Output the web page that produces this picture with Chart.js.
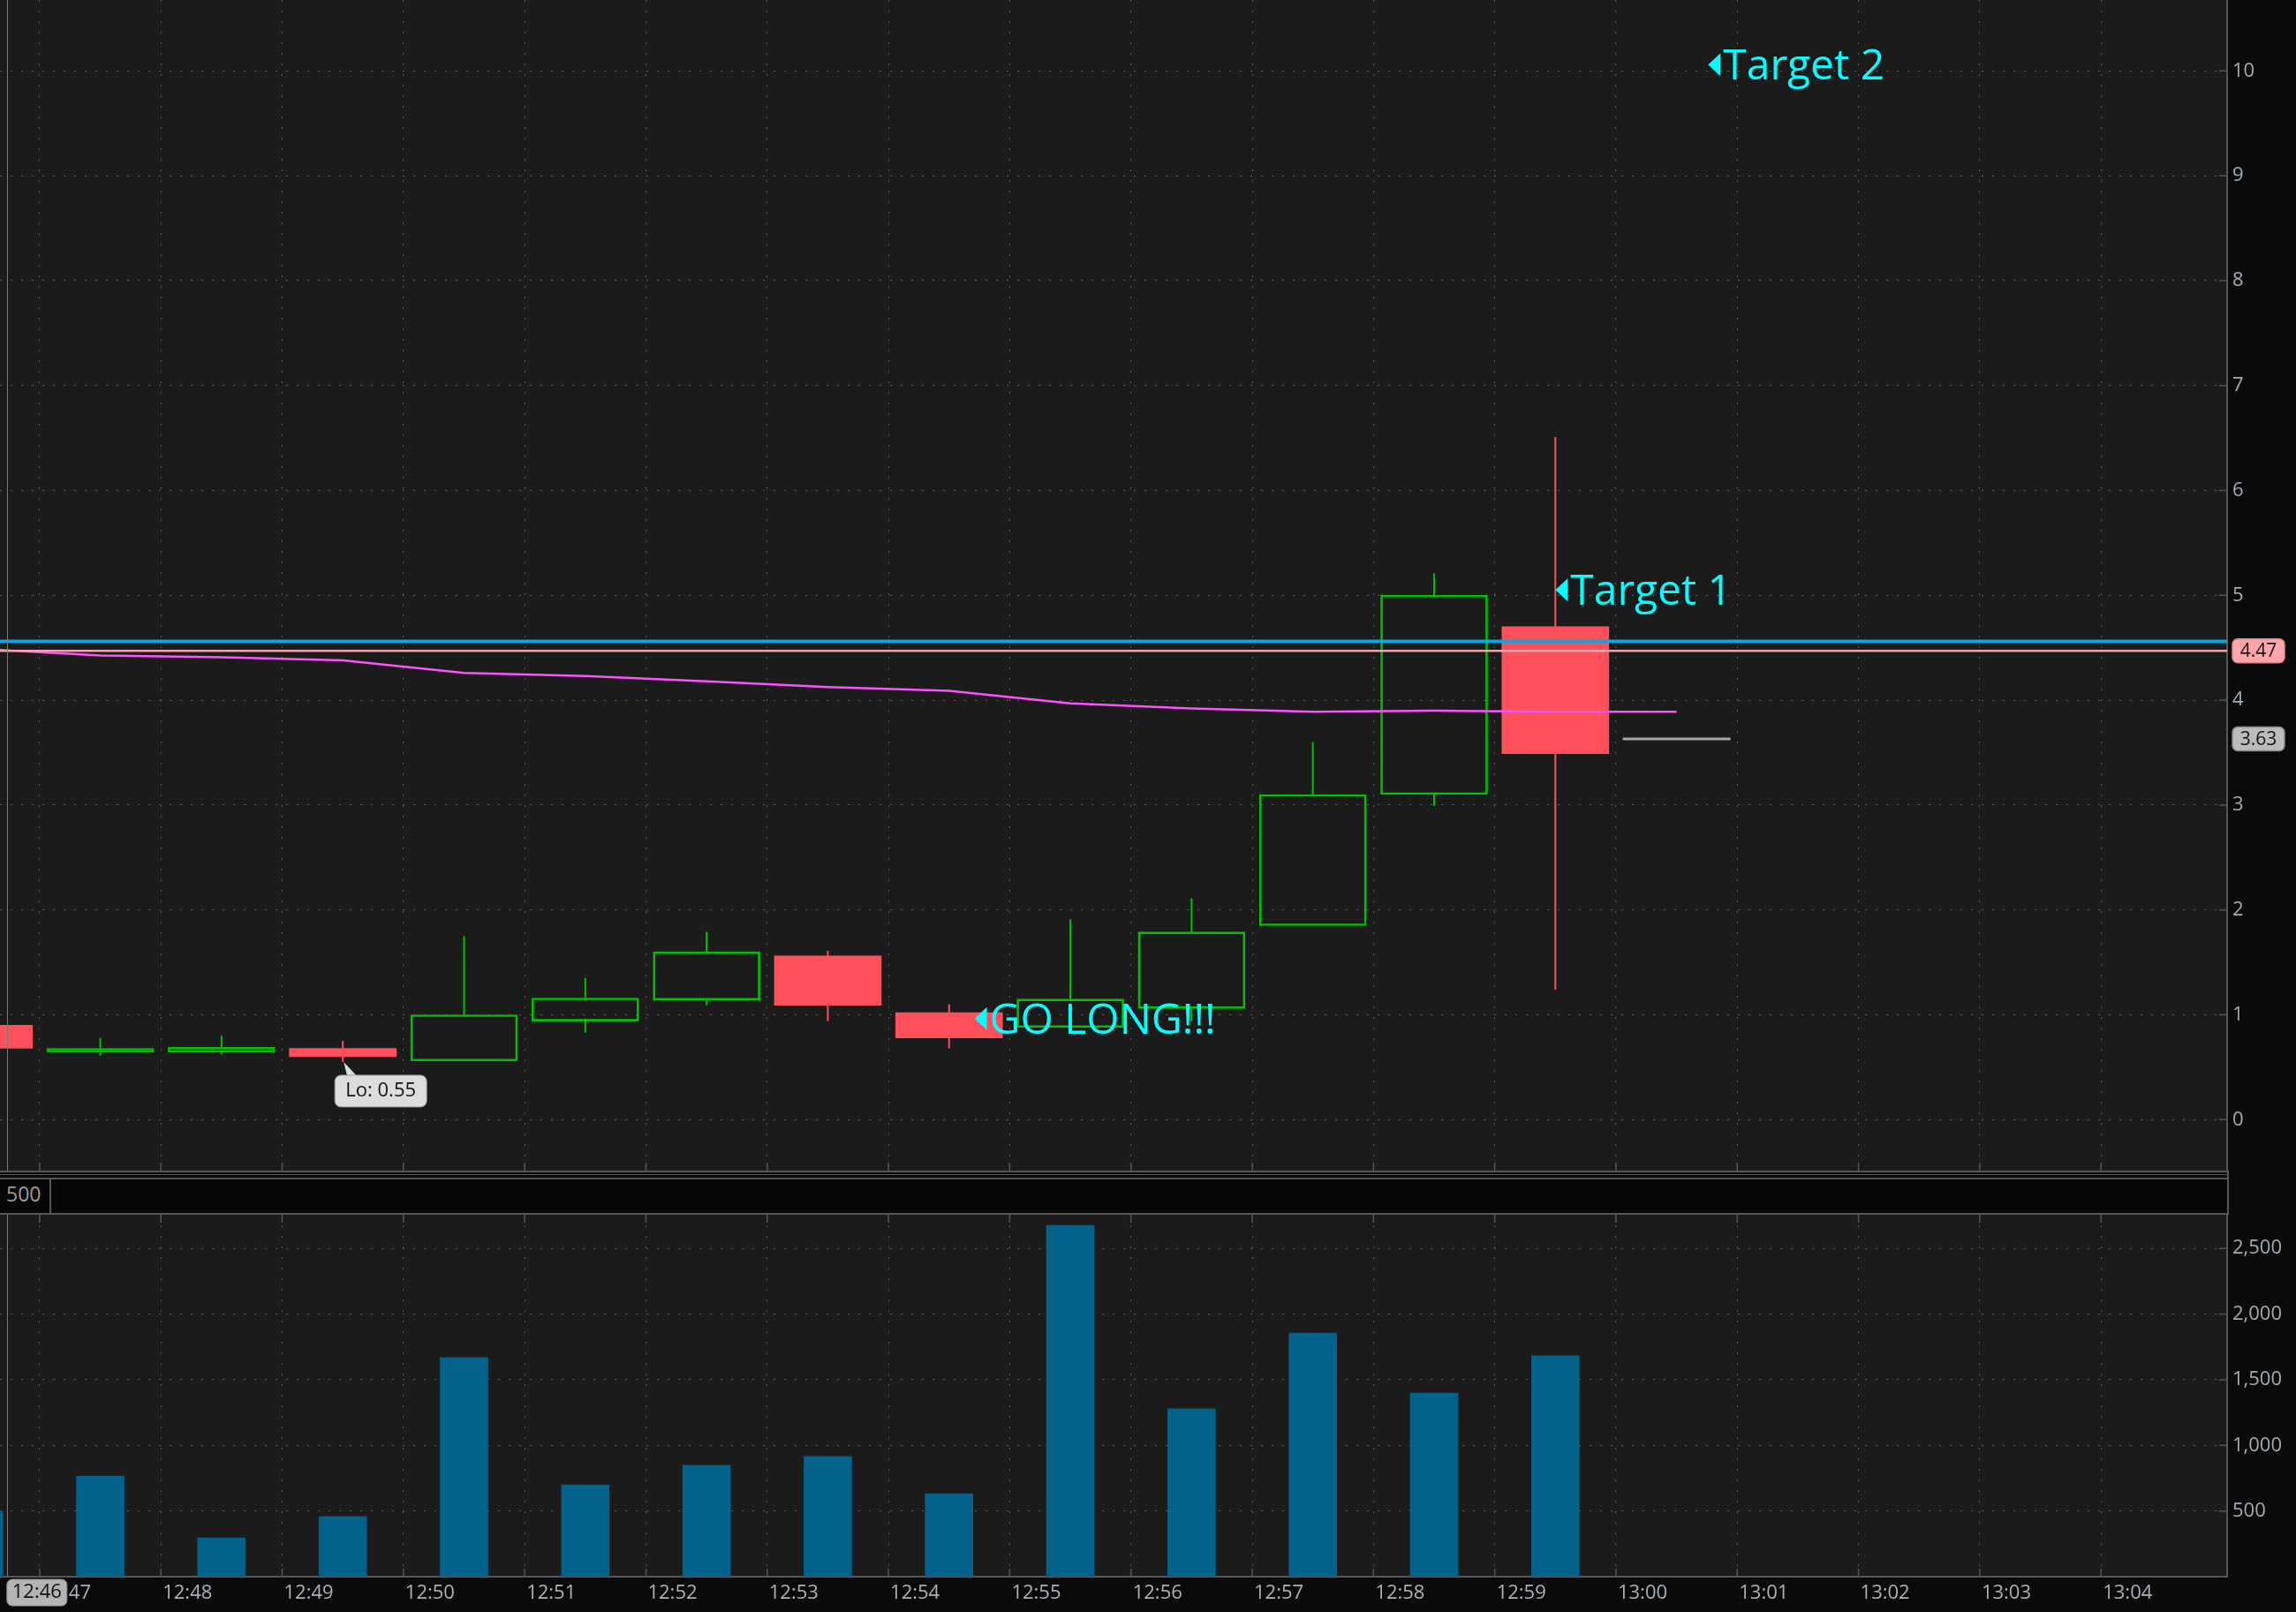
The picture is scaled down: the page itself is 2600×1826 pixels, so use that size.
<!DOCTYPE html>
<html lang="en">
<head>
<meta charset="utf-8">
<title>1 min chart</title>
<script src="https://cdn.jsdelivr.net/npm/chart.js@4.4.0/dist/chart.umd.min.js"></script>
<style>
  html, body { margin: 0; padding: 0; background: #0a0a0a; }
  #wrap { position: relative; width: 2600px; height: 1826px; overflow: hidden; background: #0a0a0a; }
  canvas { position: absolute; left: 0; display: block; }
  #priceChart { top: 0; }
  #volumeChart { top: 1376px; }
  .sep { position: absolute; left: 0; width: 2522px; background: #565656; }
  #studyBar { position: absolute; left: 0; top: 1336px; width: 2522px; height: 38px; background: #070707; }
  #studyBar span { position: absolute; left: 7px; top: 0; line-height: 38px; font: 23px 'Open Sans', sans-serif; color: #9c9c9c; }
  #studyBar i { position: absolute; left: 56px; top: 0; width: 2px; height: 38px; background: #565656; }
  #axisJoin { position: absolute; left: 2522px; top: 1326px; width: 2px; height: 50px; background: #565656; }
</style>
</head>
<body>
<div id="wrap">
  <canvas id="priceChart" width="2600" height="1326"></canvas>
  <div class="sep" style="top:1326px;height:2px"></div>
  <div class="sep" style="top:1330px;height:1px"></div>
  <div class="sep" style="top:1334px;height:2px"></div>
  <div id="studyBar"><span>500</span><i></i></div>
  <div class="sep" style="top:1374px;height:2px"></div>
  <div id="axisJoin"></div>
  <canvas id="volumeChart" width="2600" height="450"></canvas>
</div>
<script>
// values (1 minute bars)
const barTimes = ['12:46', '12:47', '12:48', '12:49', '12:50', '12:51', '12:52', '12:53', '12:54', '12:55', '12:56', '12:57', '12:58', '12:59'];
const opens   = [0.90, 0.64, 0.64, 0.68, 0.56, 0.94, 1.14, 1.56, 1.02, 0.88, 1.06, 1.85, 3.10, 4.70];
const highs   = [0.95, 0.78, 0.80, 0.75, 1.75, 1.35, 1.79, 1.61, 1.10, 1.91, 2.11, 3.60, 5.21, 6.51];
const lows    = [0.65, 0.61, 0.62, 0.55, 0.56, 0.83, 1.09, 0.94, 0.68, 0.87, 0.94, 1.85, 2.99, 1.24];
const closes  = [0.68, 0.68, 0.69, 0.60, 1.00, 1.16, 1.60, 1.09, 0.78, 1.15, 1.79, 3.10, 5.00, 3.49];
const volumes = [494, 766, 295, 458, 1668, 699, 848, 915, 631, 2676, 1278, 1855, 1398, 1682];

// moving average (runs one bar further than the candles)
const maTimes  = ['12:46', '12:47', '12:48', '12:49', '12:50', '12:51', '12:52', '12:53', '12:54', '12:55', '12:56', '12:57', '12:58', '12:59', '13:00'];
const maValues = [4.49, 4.425, 4.41, 4.38, 4.26, 4.23, 4.18, 4.125, 4.09, 3.97, 3.92, 3.89, 3.90, 3.89, 3.89];

const priceTicks  = [0, 1, 2, 3, 4, 5, 6, 7, 8, 9, 10];
const volumeTicks = [0, 500, 1000, 1500, 2000, 2500];
const timeTicks   = ['12:47', '12:48', '12:49', '12:50', '12:51', '12:52', '12:53', '12:54', '12:55',
                     '12:56', '12:57', '12:58', '12:59', '13:00', '13:01', '13:02', '13:03', '13:04'];

const blueLevel = 4.56;
const pinkLevel = 4.47;
const lastPrice = 3.63;
const lastPriceTime = '13:00';

// drawings on the chart: text, time (minutes after 12:00), price
const noteTexts  = ['Target 2', 'Target 1', 'GO LONG!!!'];
const noteTimes  = [60.76, 59.5, 54.71];
const notePrices = [10.06, 5.05, 0.965];

const cursorTime = 46.73;
const cursorLabel = '12:46';

// visible window
const viewStart = 46.673, viewEnd = 65.04;
const priceMin = -0.486, priceMax = 10.676;
const volumeMax = 2757;

const GRID = '#5c5c5c';
const AXIS = '#565656';
const UP = '#00c000';
const DOWN = '#ff4f5a';

Chart.defaults.font.family = "'Open Sans', 'Noto Sans', sans-serif";
Chart.defaults.font.size = 22;
Chart.defaults.color = '#a3abb3';

function toMin(hhmm) {
    const p = hhmm.split(':');
    return Number(p[0]) * 60 + Number(p[1]) - 720;
}
function slot(hhmm) { return toMin(hhmm) + 0.5; } // centre of the minute

function roundRect(ctx, x, y, w, h, r) {
    ctx.beginPath();
    ctx.moveTo(x + r, y);
    ctx.lineTo(x + w - r, y);
    ctx.arcTo(x + w, y, x + w, y + r, r);
    ctx.lineTo(x + w, y + h - r);
    ctx.arcTo(x + w, y + h, x + w - r, y + h, r);
    ctx.lineTo(x + r, y + h);
    ctx.arcTo(x, y + h, x, y + h - r, r);
    ctx.lineTo(x, y + r);
    ctx.arcTo(x, y, x + r, y, r);
    ctx.closePath();
}

// plot background
const plotBg = {
    id: 'plotBg',
    beforeDraw(chart) {
        const a = chart.chartArea;
        chart.ctx.save();
        chart.ctx.fillStyle = '#1b1b1b';
        chart.ctx.fillRect(a.left, a.top, a.right - a.left, a.bottom - a.top);
        chart.ctx.restore();
    }
};

// small solid ticks at the edges of the plot + the cursor line
const edgeTicks = {
    id: 'edgeTicks',
    afterDraw(chart, args, opts) {
        const {ctx, chartArea: a, scales: {x, y}} = chart;
        ctx.save();
        ctx.strokeStyle = AXIS;
        ctx.lineWidth = 1.5;
        ctx.beginPath();
        y.ticks.forEach(t => {
            const py = y.getPixelForValue(t.value);
            ctx.moveTo(a.right - 9, py); ctx.lineTo(a.right, py);
        });
        x.ticks.forEach(t => {
            const px = x.getPixelForValue(t.value);
            if (opts.top) { ctx.moveTo(px, a.top); ctx.lineTo(px, a.top + 9); }
            ctx.moveTo(px, a.bottom - 9); ctx.lineTo(px, a.bottom);
        });
        ctx.stroke();
        const cx = Math.round(x.getPixelForValue(cursorTime)) + 0.5;
        ctx.strokeStyle = '#7a7a7a';
        ctx.lineWidth = 1;
        ctx.beginPath();
        ctx.moveTo(cx, a.top); ctx.lineTo(cx, a.bottom);
        ctx.stroke();
        ctx.restore();
    }
};

// text notes, Lo bubble and the price boxes on the axis
const priceMarks = {
    id: 'priceMarks',
    afterDatasetsDraw(chart) {
        const {ctx, scales: {x, y}} = chart;
        ctx.save();
        ctx.fillStyle = '#00ffff';
        ctx.font = "48px 'Open Sans'";
        ctx.textAlign = 'left';
        ctx.textBaseline = 'alphabetic';
        noteTexts.forEach((txt, i) => {
            const px = x.getPixelForValue(noteTimes[i]);
            const py = y.getPixelForValue(notePrices[i]);
            ctx.beginPath();
            ctx.moveTo(px, py);
            ctx.lineTo(px + 14, py - 13);
            ctx.lineTo(px + 14, py + 13);
            ctx.closePath();
            ctx.fill();
            ctx.fillText(txt, px + 17, py + 17);
        });

        // low of the session
        const lo = Math.min(...lows);
        const li = lows.indexOf(lo);
        const lx = x.getPixelForValue(slot(barTimes[li]));
        const ly = y.getPixelForValue(lo);
        ctx.fillStyle = '#dddddd';
        ctx.strokeStyle = '#9a9a9a';
        ctx.lineWidth = 1;
        ctx.beginPath();
        ctx.moveTo(lx + 1, ly);
        ctx.lineTo(lx + 16, ly + 16);
        ctx.lineTo(lx + 5, ly + 16);
        ctx.closePath();
        ctx.fill();
        roundRect(ctx, lx - 9, ly + 15, 104, 36, 7);
        ctx.fill();
        ctx.stroke();
        ctx.fillStyle = '#111111';
        ctx.font = "22px 'Open Sans'";
        ctx.textAlign = 'center';
        ctx.textBaseline = 'middle';
        ctx.fillText('Lo: ' + lo.toFixed(2), lx - 9 + 52, ly + 33);
        ctx.restore();
    },
    afterDraw(chart) {
        const {ctx, chartArea: a, scales: {y}} = chart;
        const boxes = [
            {v: pinkLevel, fill: '#ffa6ab', line: '#e0868d'},
            {v: lastPrice, fill: '#bcbcbc', line: '#8a8a8a'}
        ];
        ctx.save();
        ctx.font = "21px 'Open Sans'";
        ctx.textAlign = 'center';
        ctx.textBaseline = 'middle';
        boxes.forEach(b => {
            const py = y.getPixelForValue(b.v);
            roundRect(ctx, a.right + 6, py - 13.5, 59, 27, 6);
            ctx.fillStyle = b.fill;
            ctx.fill();
            ctx.strokeStyle = b.line;
            ctx.lineWidth = 1.5;
            ctx.stroke();
            ctx.fillStyle = '#151515';
            ctx.fillText(b.v.toFixed(2), a.right + 6 + 29.5, py + 1);
        });
        ctx.restore();
    }
};

// grey time box under the cursor line
const cursorBox = {
    id: 'cursorBox',
    afterDraw(chart) {
        const {ctx, chartArea: a, scales: {x}} = chart;
        const cx = x.getPixelForValue(cursorTime);
        ctx.save();
        roundRect(ctx, cx, a.bottom + 3, 68, 30, 6);
        ctx.fillStyle = '#b4b4b4';
        ctx.fill();
        ctx.strokeStyle = '#8c8c8c';
        ctx.lineWidth = 1;
        ctx.stroke();
        ctx.fillStyle = '#111111';
        ctx.font = "22px 'Open Sans'";
        ctx.textAlign = 'center';
        ctx.textBaseline = 'middle';
        ctx.fillText(cursorLabel, cx + 34, a.bottom + 18);
        ctx.restore();
    }
};

const upBar = closes.map((c, i) => c >= opens[i]);
const candleColor = upBar.map(u => u ? UP : DOWN);

const bodies = barTimes.map((t, i) => ({x: slot(t), y: [opens[i], closes[i]]}));
const upperWicks = barTimes.map((t, i) => ({x: slot(t), y: [Math.max(opens[i], closes[i]), highs[i]]}));
const lowerWicks = barTimes.map((t, i) => ({x: slot(t), y: [lows[i], Math.min(opens[i], closes[i])]}));

function timeAxis(showLabels) {
    return {
        type: 'linear',
        min: viewStart,
        max: viewEnd,
        offset: false,
        afterBuildTicks: s => { s.ticks = timeTicks.map(t => ({value: toMin(t)})); },
        afterFit: s => {
            s.height = showLabels ? 40 : 0;
            s.paddingLeft = 0; s.paddingRight = 0;
        },
        ticks: {
            display: showLabels,
            autoSkip: false,
            maxRotation: 0,
            minRotation: 0,
            align: 'start',
            labelOffset: 2,
            padding: 6,
            color: '#aab1b8',
            callback: (v, i) => timeTicks[i]
        },
        grid: {color: GRID, lineWidth: 1, drawTicks: false, offset: false},
        border: {display: showLabels, color: AXIS, width: 2, dash: [2, 10]}
    };
}

function valueAxis(min, max, ticks, fmt) {
    return {
        position: 'right',
        min: min,
        max: max,
        afterBuildTicks: s => { s.ticks = ticks.map(v => ({value: v})); },
        afterFit: s => { s.width = 78; s.paddingTop = 0; s.paddingBottom = 0; },
        ticks: {padding: 6, color: '#a3abb3', callback: fmt},
        grid: {color: GRID, lineWidth: 1, drawTicks: false},
        border: {display: true, color: AXIS, width: 2, dash: [2, 10]}
    };
}

new Chart(document.getElementById('priceChart'), {
    type: 'bar',
    data: {
        datasets: [
            {
                type: 'line',
                data: [{x: viewStart, y: blueLevel}, {x: viewEnd, y: blueLevel}],
                borderColor: '#05a8e6', borderWidth: 4, pointRadius: 0, order: 0
            },
            {
                type: 'line',
                data: [{x: viewStart, y: pinkLevel}, {x: viewEnd, y: pinkLevel}],
                borderColor: '#f0a3a8', borderWidth: 2.5, pointRadius: 0, order: 0
            },
            {
                type: 'line',
                data: maTimes.map((t, i) => ({x: slot(t), y: maValues[i]})),
                borderColor: '#ff52ff', borderWidth: 2.5, pointRadius: 0, order: 0
            },
            {
                type: 'line',
                data: [{x: slot(lastPriceTime), y: lastPrice}],
                showLine: false, pointStyle: 'line', pointRadius: 61,
                pointBorderColor: '#a8a8a8', pointBorderWidth: 3, order: 0
            },
            {
                type: 'bar',
                data: bodies,
                backgroundColor: upBar.map(u => u ? 'rgba(0,0,0,0)' : DOWN),
                borderColor: candleColor,
                borderWidth: upBar.map(u => u ? 2 : 0),
                borderSkipped: false,
                barThickness: 121,
                grouped: false,
                order: 1
            },
            {
                type: 'bar', data: upperWicks, backgroundColor: candleColor,
                barThickness: 2, inflateAmount: 0, grouped: false, order: 2
            },
            {
                type: 'bar', data: lowerWicks, backgroundColor: candleColor,
                barThickness: 2, inflateAmount: 0, grouped: false, order: 2
            }
        ]
    },
    options: {
        responsive: false,
        animation: false,
        events: [],
        layout: {padding: 0, autoPadding: false},
        plugins: {legend: {display: false}, tooltip: {enabled: false}, edgeTicks: {top: false}},
        scales: {
            x: timeAxis(false),
            y: valueAxis(priceMin, priceMax, priceTicks, v => String(v))
        }
    },
    plugins: [plotBg, edgeTicks, priceMarks]
});

new Chart(document.getElementById('volumeChart'), {
    type: 'bar',
    data: {
        datasets: [{
            data: barTimes.map((t, i) => ({x: slot(t), y: volumes[i]})),
            backgroundColor: '#03628b',
            barThickness: 54,
            grouped: false
        }]
    },
    options: {
        responsive: false,
        animation: false,
        events: [],
        layout: {padding: 0, autoPadding: false},
        plugins: {legend: {display: false}, tooltip: {enabled: false}, edgeTicks: {top: true}},
        scales: {
            x: timeAxis(true),
            y: valueAxis(0, volumeMax, volumeTicks, v => v === 0 ? '' : v.toLocaleString('en-US'))
        }
    },
    plugins: [plotBg, edgeTicks, cursorBox]
});
</script>
</body>
</html>
